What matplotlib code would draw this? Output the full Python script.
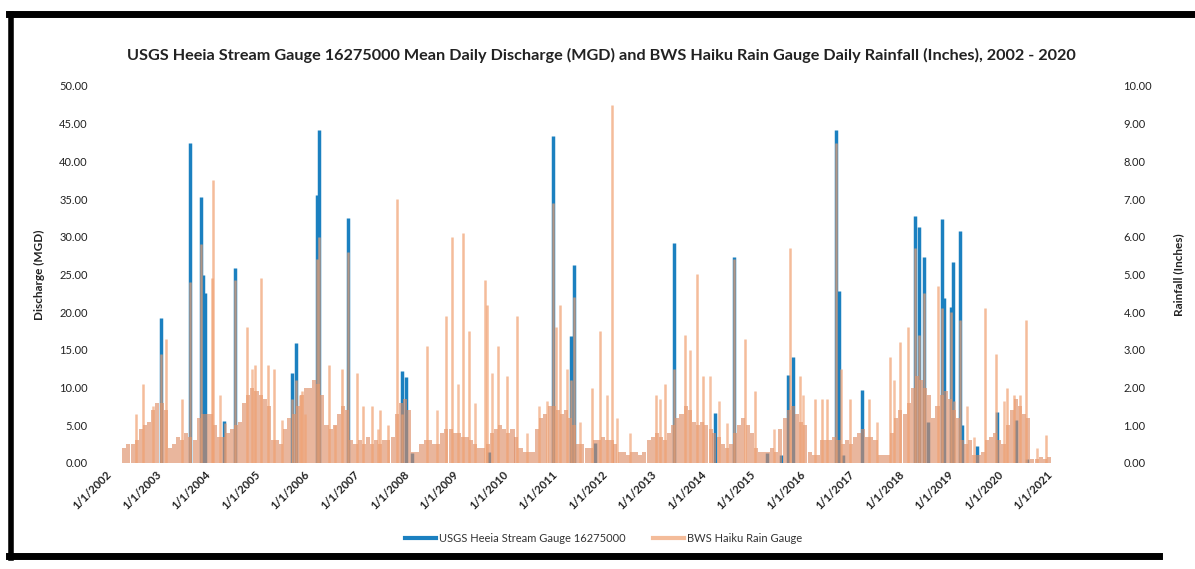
import matplotlib.pyplot as plt
import numpy as np
import pandas as pd
from matplotlib.lines import Line2D

plt.rcParams['font.family'] = ['Lato', 'DejaVu Sans']

# USGS Heeia stream gauge - daily discharge peaks (MGD)
flow_dates = ['2003-01-10', '2003-08-15', '2003-11-02', '2003-11-17', '2003-12-02',
              '2004-04-20', '2004-07-10', '2005-09-05', '2005-10-04', '2006-03-08',
              '2006-03-23', '2006-10-22', '2007-11-24', '2007-12-24', '2008-02-06',
              '2009-08-28', '2010-12-13', '2011-04-22', '2011-05-17', '2011-10-19',
              '2013-05-24', '2014-03-23', '2014-08-06', '2015-04-08', '2015-07-22',
              '2015-09-12', '2015-10-19', '2016-09-01', '2016-09-19', '2016-10-22',
              '2017-03-11', '2018-04-04', '2018-05-06', '2018-06-12', '2018-07-09',
              '2018-10-22', '2018-11-06', '2018-12-27', '2019-01-09', '2019-02-28',
              '2019-03-18', '2019-07-04', '2019-11-29', '2020-04-20', '2020-07-08']
flow_mgd = [19.2, 42.5, 35.3, 24.9, 22.5,
            5.6, 25.9, 11.9, 15.9, 35.5,
            44.2, 32.5, 12.2, 11.4, 1.3,
            1.5, 43.4, 16.8, 26.3, 2.6,
            29.2, 6.6, 27.3, 1.3, 1.0,
            11.7, 14.1, 44.2, 22.8, 1.0,
            9.7, 32.7, 31.3, 27.3, 5.5,
            32.4, 21.9, 20.7, 26.7, 30.8,
            5.0, 2.2, 6.8, 5.7, 0.5]

# BWS Haiku rain gauge - bigger storm days (inches)
rain_dates = ['2002-07-10', '2002-09-01', '2003-01-10', '2003-02-18', '2003-06-15',
              '2003-08-15', '2003-11-02', '2004-01-23', '2004-01-30', '2004-07-10',
              '2004-10-07', '2004-12-05', '2005-01-19', '2005-03-11', '2005-04-24',
              '2005-09-05', '2005-10-04', '2005-11-17', '2006-03-08', '2006-03-23',
              '2006-06-04', '2006-09-08', '2006-10-22', '2006-12-28', '2007-02-10',
              '2007-04-17', '2007-06-15', '2007-08-13', '2007-10-19', '2007-11-24',
              '2008-05-28', '2008-10-15', '2008-11-28', '2009-02-17', '2009-04-03',
              '2009-07-30', '2009-08-13', '2009-11-02', '2010-01-08', '2010-03-23',
              '2010-12-13', '2011-01-04', '2011-02-03', '2011-04-22', '2011-05-17',
              '2011-09-27', '2011-11-25', '2012-02-22', '2013-01-11', '2013-03-18',
              '2013-05-24', '2013-08-13', '2013-11-10', '2013-12-24', '2014-08-06',
              '2014-10-30', '2015-01-11', '2015-09-27', '2015-12-10', '2016-03-30',
              '2016-05-20', '2016-06-26', '2016-09-01', '2016-10-07', '2016-12-13',
              '2017-05-02', '2017-10-04', '2017-12-17', '2018-02-14', '2018-04-04',
              '2018-05-06', '2018-06-12', '2018-09-22', '2018-10-22', '2018-12-27',
              '2019-02-28', '2019-09-04', '2019-11-24', '2020-02-14', '2020-03-30',
              '2020-05-14', '2020-07-03', '2020-11-21']
rain_in = [1.3, 2.1, 2.9, 3.3, 1.7,
           4.8, 5.8, 4.9, 7.5, 4.85,
           3.6, 2.6, 4.9, 2.6, 2.5,
           1.7, 2.2, 1.9, 5.4, 6.0,
           2.6, 2.5, 5.6, 2.4, 1.5,
           1.5, 1.4, 1.0, 7.0, 1.3,
           3.1, 3.9, 6.0, 6.1, 3.5,
           4.85, 4.2, 3.1, 2.3, 3.9,
           6.9, 3.6, 4.2, 2.2, 4.4,
           2.0, 3.5, 9.5, 1.8, 2.1,
           2.5, 3.4, 5.0, 2.3, 5.4,
           3.3, 1.9, 5.7, 2.3, 1.7,
           1.7, 1.7, 8.5, 2.5, 1.7,
           1.7, 2.8, 3.2, 3.6, 5.7,
           3.4, 4.5, 4.7, 4.1, 4.0,
           3.8, 4.1, 2.9, 2.0, 1.8,
           1.8, 3.8, 0.75]

# smaller rain days inside the wet spells (inches)
minor_dates = ['2002-11-15', '2004-03-22', '2004-04-28', '2004-11-11', '2005-06-20',
               '2005-11-02', '2005-12-09', '2006-07-18', '2007-06-03', '2008-08-07',
               '2009-01-11', '2009-05-17', '2009-09-16', '2010-06-02', '2010-08-27',
               '2010-10-28', '2011-03-24', '2011-06-30', '2012-01-13', '2012-03-27',
               '2012-07-03', '2013-02-10', '2013-09-19', '2014-02-14', '2014-04-16',
               '2014-06-16', '2015-05-27', '2016-01-01', '2017-06-28', '2017-10-28',
               '2019-01-13', '2019-04-22', '2019-06-10', '2020-01-17', '2020-09-20']
minor_in = [1.5, 1.8, 1.05, 2.5, 1.15,
            1.8, 1.3, 1.0, 0.9, 1.4,
            2.1, 1.6, 2.4, 0.8, 1.5,
            1.65, 2.5, 1.1, 1.8, 1.2,
            0.8, 1.7, 3.0, 2.3, 1.65,
            1.05, 0.9, 1.8, 1.1, 2.2,
            1.65, 1.5, 0.7, 1.65, 0.4]

# typical daily rainfall level per month, Jan 2002 .. Dec 2020 (inches)
nan = np.nan
rain_monthly_in = [
    nan, nan, nan, 0.4, 0.5, 0.5, 0.6, 0.9, 1.0, 1.1, 1.4, 1.6,   # 2002
    1.6, 1.4, 0.4, 0.5, 0.7, 0.6, 0.8, 0.7, 0.6, 1.2, 1.3, 1.3,   # 2003
    1.3, 1.0, 0.7, 0.7, 0.8, 0.9, 1.0, 1.1, 1.6, 1.8, 2.0, 1.9,   # 2004
    1.8, 1.7, 1.5, 0.6, 0.6, 0.5, 0.9, 1.2, 1.3, 1.5, 1.8, 2.0,   # 2005
    2.0, 2.2, 2.1, 1.8, 1.0, 0.9, 1.0, 1.3, 1.5, 1.4, 0.6, 0.5,   # 2006
    0.6, 0.5, 0.7, 0.5, 0.6, 0.5, 0.6, 0.6, 0.7, 1.3, 1.6, 1.7,   # 2007
    1.4, 0.3, 0.3, 0.5, 0.6, 0.6, 0.5, 0.5, 0.8, 0.9, 0.9, 0.8,   # 2008
    0.8, 0.7, 0.7, 0.6, 0.5, 0.4, 0.4, 0.5, 0.8, 0.9, 1.0, 0.9,   # 2009
    0.8, 0.9, 0.7, 0.4, 0.3, 0.3, 0.3, 0.9, 1.2, 1.3, 1.5, 1.5,   # 2010
    1.4, 1.3, 1.4, 1.2, 1.0, 0.5, 0.5, 0.4, 0.4, 0.6, 0.6, 0.7,   # 2011
    0.6, 0.6, 0.5, 0.3, 0.3, 0.2, 0.3, 0.3, 0.2, 0.3, 0.6, 0.7,   # 2012
    0.8, 0.7, 0.6, 0.8, 1.0, 1.2, 1.3, 1.5, 1.4, 1.1, 1.0, 1.1,   # 2013
    1.0, 0.9, 0.8, 0.7, 0.5, 0.4, 0.5, 0.8, 1.0, 1.2, 1.0, 0.8,   # 2014
    0.4, 0.3, 0.3, 0.3, 0.4, 0.3, 0.9, 1.2, 1.4, 1.5, 1.3, 1.1,   # 2015
    1.0, 0.3, 0.2, 0.2, 0.6, 0.6, 0.6, 0.7, 0.6, 0.5, 0.6, 0.5,   # 2016
    0.7, 0.8, 0.9, 0.7, 0.7, 0.6, 0.2, 0.2, 0.2, 0.8, 1.2, 1.4,   # 2017
    1.3, 1.6, 2.0, 2.3, 2.2, 2.0, 1.8, 1.2, 1.5, 1.8, 1.9, 1.7,   # 2018
    1.4, 1.2, 0.6, 0.5, 0.6, 0.2, 0.2, 0.3, 0.6, 0.7, 0.8, 0.6,   # 2019
    0.5, 1.0, 1.4, 1.7, 1.5, 1.3, 1.2, 0.1, 0.1, 0.15, 0.1, 0.15, # 2020
]

BLUE = '#1b80c0'
ORANGE = '#f0a070'
ORANGE_DARK = '#dc8a62'

flow_x = pd.to_datetime(flow_dates)
rain_x = pd.to_datetime(rain_dates)
minor_x = pd.to_datetime(minor_dates)
month_x = pd.date_range('2002-01-01', periods=len(rain_monthly_in), freq='MS') + pd.Timedelta(days=15)
year_ticks = pd.date_range('2002-01-01', '2021-01-01', freq='YS')

fig = plt.figure(figsize=(11.95, 5.69), dpi=100)
ax = fig.add_axes([0.0921, 0.1863, 0.7875, 0.6626])
ax2 = ax.twinx()

ax.vlines(flow_x, 0, flow_mgd, color=BLUE, linewidth=2.5)

ax2.bar(month_x, rain_monthly_in, width=30, color=ORANGE_DARK, alpha=0.62, linewidth=0)
ax2.vlines(minor_x, 0, minor_in, color=ORANGE, linewidth=1.8, alpha=0.65)
ax2.vlines(rain_x, 0, rain_in, color=ORANGE, linewidth=1.8, alpha=0.7)

ax.set_xlim(year_ticks[0], year_ticks[-1])
ax.set_ylim(0, 50)
ax2.set_ylim(0, 10)
ax.set_yticks(np.arange(0, 51, 5))
ax2.set_yticks(np.arange(0, 11, 1))
ax.set_yticklabels([f'{v:.2f}' for v in np.arange(0, 51, 5)], fontsize=8, color='#222222')
ax2.set_yticklabels([f'{v:.2f}' for v in np.arange(0, 11, 1)], fontsize=8, color='#222222')
ax.set_xticks(year_ticks)
ax.set_xticklabels([f'{d.month}/{d.day}/{d.year}' for d in year_ticks], fontsize=8,
                   rotation=45, ha='right', va='center', rotation_mode='anchor',
                   color='#222222', fontweight='bold')

for a in (ax, ax2):
    for s in a.spines.values():
        s.set_visible(False)
ax.tick_params(axis='both', length=0)
ax.tick_params(axis='y', pad=16)
ax.tick_params(axis='x', pad=7)
ax2.tick_params(axis='y', length=0, pad=52)

ax.set_ylabel('Discharge (MGD)', fontsize=8.5, fontweight='bold', color='#222222')
ax.yaxis.set_label_coords(-0.069, 0.5)
ax2.set_ylabel('Rainfall (Inches)', fontsize=8.5, fontweight='bold', color='#222222', rotation=90)
ax2.yaxis.set_label_coords(1.13, 0.5)

fig.text(0.503, 0.903, 'USGS Heeia Stream Gauge 16275000 Mean Daily Discharge (MGD) and BWS Haiku Rain Gauge '
         'Daily Rainfall (Inches), 2002 - 2020', ha='center', va='center', fontsize=11.7,
         fontweight='bold', color='#222222')

handles = [Line2D([], [], color=BLUE, linewidth=3),
           Line2D([], [], color=ORANGE, linewidth=3, alpha=0.7)]
fig.legend(handles, ['USGS Heeia Stream Gauge 16275000', 'BWS Haiku Rain Gauge'],
           loc='center', bbox_to_anchor=(0.505, 0.053), ncol=2, frameon=False,
           fontsize=8, handlelength=2.8, handletextpad=0.3, columnspacing=2.4,
           labelcolor='#333333')

# scanned page frame
fig.add_artist(Line2D([0.0092, 0.0092], [0.975, 0.019], transform=fig.transFigure, color='black', linewidth=4))
fig.add_artist(Line2D([0.0075, 1.0], [0.975, 0.975], transform=fig.transFigure, color='black', linewidth=5))
fig.add_artist(Line2D([0.0075, 0.97], [0.022, 0.022], transform=fig.transFigure, color='black', linewidth=5))

fig.savefig('out.png', dpi=100)
